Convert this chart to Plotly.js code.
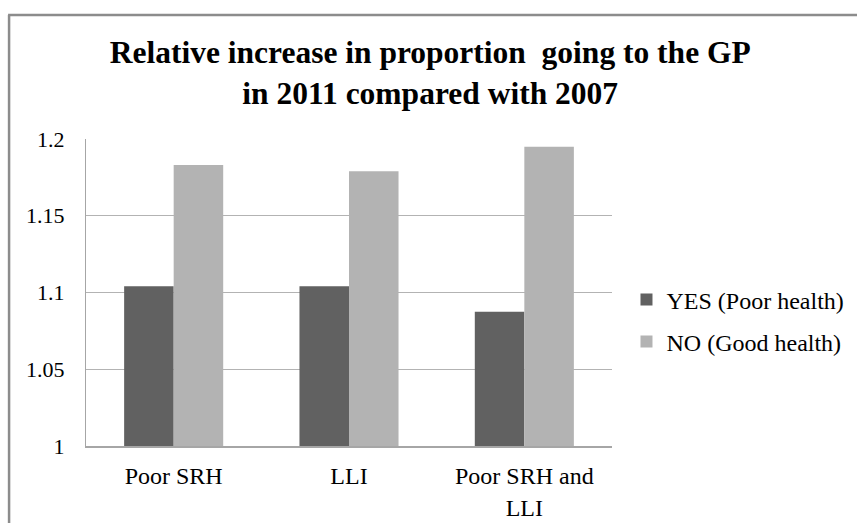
<!DOCTYPE html>
<html>
<head>
<meta charset="utf-8">
<script src="https://cdn.plot.ly/plotly-3.0.1.min.js"></script>
<style>
  html, body { margin: 0; padding: 0; background: #ffffff; }
  #chart { width: 857px; height: 523px; }
</style>
</head>
<body>
<div id="chart"></div>
<script>
const categories = ["Poor SRH", "LLI", "Poor SRH and<br>LLI"];
const seriesNames = ["YES (Poor health)", "NO (Good health)"];
const yesValues = [1.104, 1.104, 1.0875];
const noValues = [1.183, 1.179, 1.195];
const yTickVals = [1, 1.05, 1.1, 1.15, 1.2];
const yTickText = ["1", "1.05", "1.1", "1.15", "1.2"];

const serif = "Liberation Serif";

// plot area geometry (pixels)
const L = 86, R = 612.5, T = 139, B = 446.3, W = 857, H = 523;
const pw = R - L, ph = B - T;
const px = x => (x - L) / pw;
const py = y => (B - y) / ph;

const traces = [
  { type: "bar", name: seriesNames[0], x: categories, y: yesValues,
    marker: { color: "#616161" }, legendgroup: "a" },
  { type: "bar", name: seriesNames[1], x: categories, y: noValues,
    marker: { color: "#b3b3b3" }, legendgroup: "b" }
];

const layout = {
  width: W, height: H,
  margin: { l: L, r: W - R, t: T, b: H - B, pad: 0, autoexpand: false },
  paper_bgcolor: "#ffffff",
  plot_bgcolor: "#ffffff",
  font: { family: serif, color: "#000000", size: 22 },
  title: {
    text: "<b>Relative increase in proportion  going to the GP<br>in 2011 compared with 2007</b>",
    font: { family: serif, size: 31.5, color: "#000000" },
    x: 0.502, xanchor: "center",
    yref: "container", y: 1 - 63 / H, yanchor: "middle"
  },
  barmode: "group",
  bargap: 0.435,
  bargroupgap: 0,
  xaxis: {
    type: "category",
    showline: true, linecolor: "#a6a6a6", linewidth: 1.5,
    showgrid: false,
    ticks: "", ticklabelstandoff: 8,
    tickfont: { family: serif, size: 24, color: "#000000" },
    fixedrange: true
  },
  yaxis: {
    range: [1, 1.2],
    tickvals: yTickVals, ticktext: yTickText,
    showgrid: true, gridcolor: "#b3b3b3", gridwidth: 1,
    showline: true, linecolor: "#a6a6a6", linewidth: 1,
    zeroline: false,
    ticks: "", ticklabelstandoff: 16,
    tickfont: { family: serif, size: 22, color: "#000000" },
    fixedrange: true
  },
  legend: {
    x: px(627), xanchor: "left",
    y: py(321), yanchor: "middle",
    font: { family: serif, size: 24, color: "#000000" },
    traceorder: "grouped",
    tracegroupgap: 8,
    itemwidth: 30,
    bgcolor: "rgba(0,0,0,0)"
  },
  shapes: [
    { type: "line", xref: "paper", yref: "paper",
      x0: px(9), x1: px(9), y0: py(H + 5), y1: py(15),
      line: { color: "#8c8c8c", width: 2.5 } },
    { type: "line", xref: "paper", yref: "paper",
      x0: px(8), x1: px(W + 5), y0: py(15), y1: py(15),
      line: { color: "#8c8c8c", width: 2.5 } }
  ]
};

Plotly.newPlot("chart", traces, layout, { displayModeBar: false, staticPlot: true });
</script>
</body>
</html>
